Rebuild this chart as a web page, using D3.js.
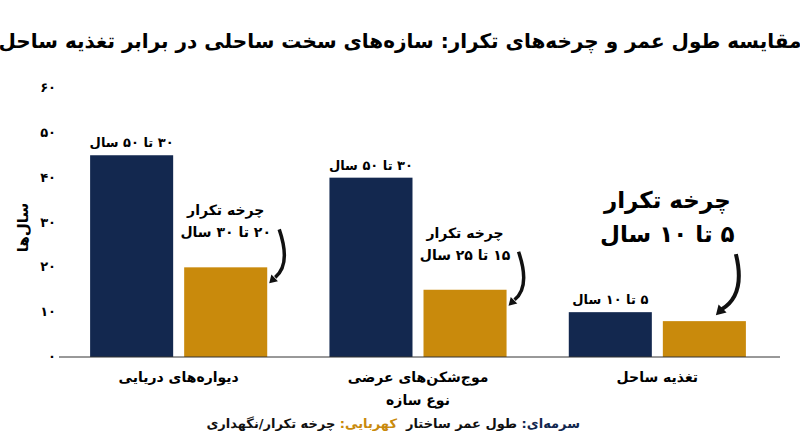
<!DOCTYPE html><html><head><meta charset="utf-8"><script src="https://cdn.jsdelivr.net/npm/d3@7"></script>
<style>body{margin:0;background:#fff}text{font-family:"DejaVu Sans",sans-serif;font-weight:bold}</style></head><body><svg id="c" width="800" height="447"></svg><script>
const categories=["دیواره‌های دریایی","موج‌شکن‌های عرضی","تغذیه ساحل"];
const lifespan=[45,40,10];
const cycle=[20,15,8];
const lifeLabels=["۳۰ تا ۵۰ سال","۳۰ تا ۵۰ سال","۵ تا ۱۰ سال"];
const cycleLabels=[["چرخه تکرار","۲۰ تا ۳۰ سال"],["چرخه تکرار","۱۵ تا ۲۵ سال"],["چرخه تکرار","۵ تا ۱۰ سال"]];
const yTicks=[0,10,20,30,40,50,60];
const fa=n=>String(n).replace(/\d/g,d=>"۰۱۲۳۴۵۶۷۸۹"[d]);
const navy="#13284f",gold="#c98a0c";
const svg=d3.select("#c");
const L=59,R=777,T=88,B=357;
const x0=d3.scaleBand().domain(categories).range([L,R]).paddingInner(0.26).paddingOuter(0.13);
const x1=d3.scaleBand().domain(["a","b"]).range([0,x0.bandwidth()]).paddingInner(0.117);
const y=d3.scaleLinear().domain([0,60]).range([B,T]);
svg.append("text").attr("x",400).attr("y",48).attr("text-anchor","middle").attr("font-size",20).attr("direction","rtl").text("مقایسه طول عمر و چرخه‌های تکرار: سازه‌های سخت ساحلی در برابر تغذیه ساحل");
svg.selectAll(".yt").data(yTicks).join("text").attr("x",56).attr("y",d=>y(d)+4).attr("text-anchor","end").attr("font-size",13).text(d=>fa(d));
svg.append("text").attr("transform",`translate(28,${(T+B)/2+5}) rotate(-90)`).attr("text-anchor","middle").attr("font-size",15).text("سال‌ها");
categories.forEach((c,i)=>{
 const g=svg.append("g").attr("transform",`translate(${x0(c)},0)`);
 g.append("rect").attr("x",x1("a")).attr("width",x1.bandwidth()).attr("y",y(lifespan[i])).attr("height",B-y(lifespan[i])).attr("fill",navy);
 g.append("rect").attr("x",x1("b")).attr("width",x1.bandwidth()).attr("y",y(cycle[i])).attr("height",B-y(cycle[i])).attr("fill",gold);
 g.append("text").attr("x",x1("a")+x1.bandwidth()/2).attr("y",y(lifespan[i])-8).attr("text-anchor","middle").attr("font-size",13).attr("direction","rtl").text(lifeLabels[i]);
 const big=i===2, fs=big?23:14, lh=big?34:22;
 const cx=x1("b")+x1.bandwidth()/2+(big?-37:0);
 const ty=y(cycle[i])-(big?113:52);
 cycleLabels[i].forEach((t,k)=>g.append("text").attr("x",cx).attr("y",ty+k*lh).attr("text-anchor","middle").attr("font-size",fs).attr("direction","rtl").text(t));
 const ax=x1("b")+x1.bandwidth()+ (big?-10:12), ay=ty+lh+(big?12:-8);
 const ex=x1("b")+x1.bandwidth()+(big?-30:2), ey=y(cycle[i])+(big?-6:16);
 const p=d3.path();p.moveTo(ax,ay);p.quadraticCurveTo(ax+(big?10:12),(ay+ey)/2+ (big?10:8),ex+6,ey-6);
 g.append("path").attr("d",p.toString()).attr("fill","none").attr("stroke","#111").attr("stroke-width",big?4:3.5);
 const ang=Math.atan2(ey-(ey-6),ex-(ex+6));
 const hs=big?11:9;
 g.append("path").attr("d",`M${ex},${ey}L${ex+hs*Math.cos(ang-2.6)},${ey+hs*Math.sin(ang-2.6)}L${ex+hs*Math.cos(ang+2.6)},${ey+hs*Math.sin(ang+2.6)}Z`).attr("fill","#111");
 svg.append("text").attr("x",x0(c)+x0.bandwidth()/2).attr("y",382).attr("text-anchor","middle").attr("font-size",14).attr("direction","rtl").text(c);
});
svg.append("line").attr("x1",L).attr("x2",R+3).attr("y1",B).attr("y2",B).attr("stroke","#333");
svg.append("text").attr("x",418).attr("y",405).attr("text-anchor","middle").attr("font-size",14).attr("direction","rtl").text("نوع سازه");
const l1=svg.append("text").attr("x",580).attr("y",428).attr("text-anchor","start").attr("direction","rtl").attr("font-size",13);
l1.append("tspan").attr("fill",navy).text("سرمه‌ای: ");l1.append("tspan").attr("fill","#111").text("طول عمر ساختار");
const l2=svg.append("text").attr("x",397).attr("y",428).attr("text-anchor","start").attr("direction","rtl").attr("font-size",13);
l2.append("tspan").attr("fill",gold).text("کهربایی: ");l2.append("tspan").attr("fill","#111").text("چرخه تکرار/نگهداری");
</script></body></html>
